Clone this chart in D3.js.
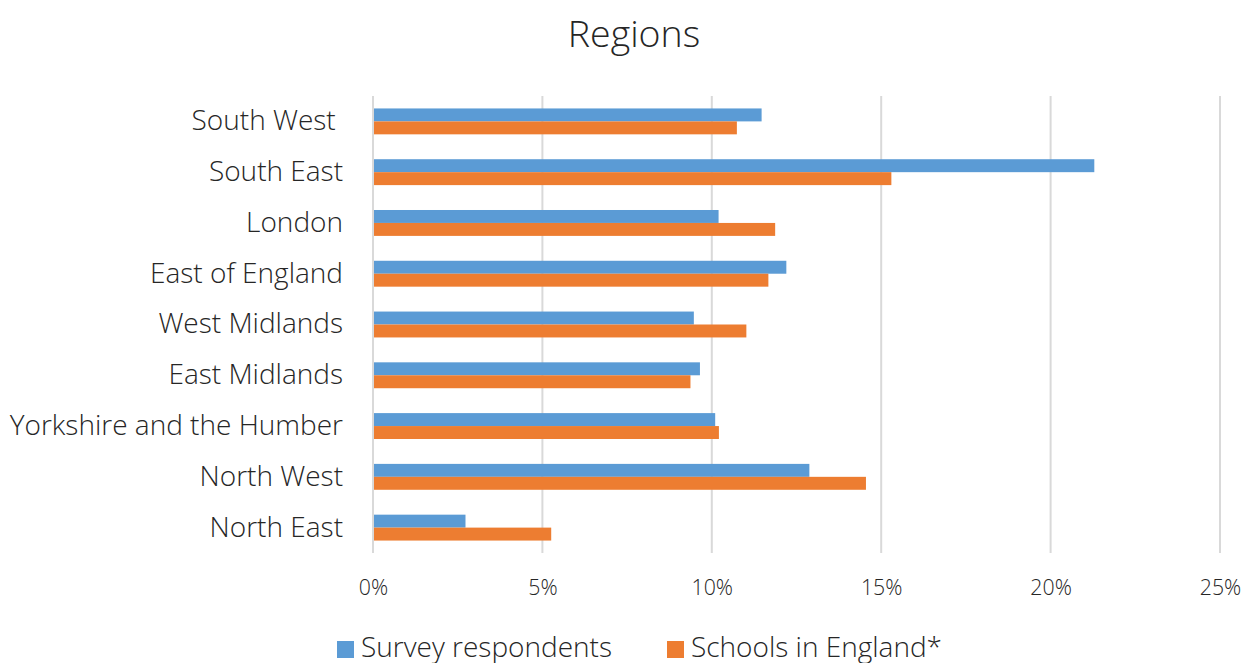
<!DOCTYPE html>
<html><head><meta charset="utf-8">
<script src="https://cdn.jsdelivr.net/npm/d3@7"></script>
<style>body{margin:0;background:#fff}svg{display:block}text{white-space:pre}</style>
</head><body>
<svg id="c" width="1245" height="663"></svg>
<script>
const categories = ["South West ","South East","London","East of England","West Midlands","East Midlands","Yorkshire and the Humber","North West","North East"];
const seriesNames = ["Survey respondents","Schools in England*"];
const survey = [11.47,21.29,10.2,12.2,9.47,9.65,10.1,12.88,2.73];
const schools = [10.74,15.3,11.87,11.67,11.02,9.37,10.21,14.55,5.26];
const xTicks = [0,5,10,15,20,25];
const colors = ["#5B9BD5","#ED7D31"];
const font = "'Open Sans', sans-serif";
const textColor = "#262626";

const svg = d3.select("#c");
const m = {left:373, right:1220, top:96, bottom:553};
const x = d3.scaleLinear().domain([0,25]).range([m.left,m.right]);
const y = d3.scaleBand().domain(categories).range([m.top,m.bottom]).paddingInner(0.49).paddingOuter(0.245);
const y2 = d3.scaleBand().domain([0,1]).range([0,y.bandwidth()]);

svg.append("g").selectAll("line").data(xTicks).join("line")
  .attr("x1",d=>x(d)).attr("x2",d=>x(d)).attr("y1",m.top).attr("y2",m.bottom)
  .attr("stroke","#D9D9D9").attr("stroke-width",2);

const data = categories.map((c,i)=>({c, v:[survey[i],schools[i]]}));
const g = svg.append("g").selectAll("g").data(data).join("g")
  .attr("transform",d=>`translate(0,${y(d.c)})`);
g.selectAll("rect").data(d=>d.v.map((v,k)=>({v,k}))).join("rect")
  .attr("x",x(0)+1).attr("y",d=>y2(d.k)).attr("height",y2.bandwidth())
  .attr("width",d=>x(d.v)-x(0)-1).attr("fill",d=>colors[d.k]);

const yAxis = d3.axisLeft(y).tickSize(0).tickPadding(30);
const ya = svg.append("g").attr("transform",`translate(${m.left},0)`).call(yAxis);
ya.select(".domain").remove();
ya.selectAll("text").attr("font-family",font).attr("font-weight",300).attr("font-size",28).attr("fill",textColor);

const xAxis = d3.axisBottom(x).tickValues(xTicks).tickFormat(d=>d+"%").tickSize(0).tickPadding(27);
const xa = svg.append("g").attr("transform",`translate(0,${m.bottom})`).call(xAxis);
xa.select(".domain").remove();
xa.selectAll("text").attr("font-family",font).attr("font-weight",300).attr("font-size",21.3).attr("fill",textColor);

svg.append("text").attr("x",634).attr("y",47).attr("text-anchor","middle")
  .attr("font-family",font).attr("font-weight",300).attr("font-size",37.5).attr("fill",textColor).text("Regions");

const legX = [337,667];
const lg = svg.append("g").selectAll("g").data(seriesNames).join("g")
  .attr("transform",(d,i)=>`translate(${legX[i]},641)`);
lg.append("rect").attr("width",17).attr("height",17).attr("fill",(d,i)=>colors[i]);
lg.append("text").attr("x",24).attr("y",15.5).attr("font-family",font).attr("font-weight",300).attr("font-size",28)
  .attr("fill",textColor).text(d=>d);
</script>
</body></html>
